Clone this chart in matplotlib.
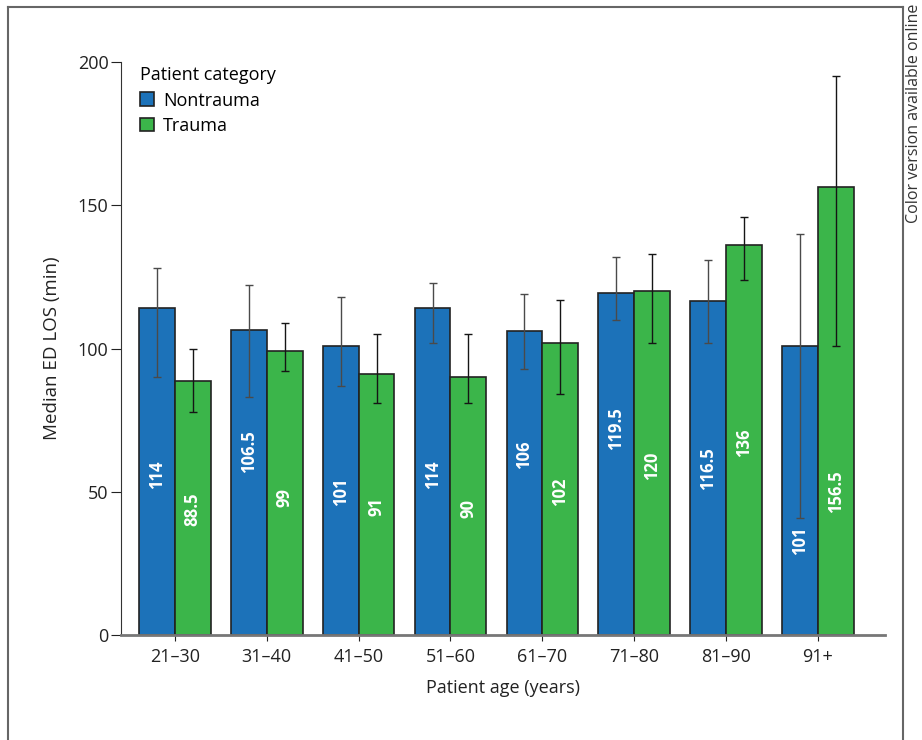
"""Median ED length of stay by patient age, nontrauma vs trauma."""

import matplotlib
matplotlib.use("Agg")
import matplotlib.pyplot as plt
from matplotlib.lines import Line2D
import numpy as np

plt.rcParams["font.family"] = ["Open Sans", "DejaVu Sans"]

age_groups = ["21–30", "31–40", "41–50", "51–60", "61–70", "71–80", "81–90", "91+"]

nontrauma = [114, 106.5, 101, 114, 106, 119.5, 116.5, 101]
nontrauma_lo = [90, 83, 87, 102, 93, 110, 102, 41]
nontrauma_hi = [128, 122, 118, 123, 119, 132, 131, 140]

trauma = [88.5, 99, 91, 90, 102, 120, 136, 156.5]
trauma_lo = [78, 92, 81, 81, 84, 102, 124, 101]
trauma_hi = [100, 109, 105, 105, 117, 133, 146, 195]

# where the rotated value labels sit (data units), hand-placed like the original
nontrauma_label_y = [56, 64, 50, 56, 63, 72, 58, 33]
trauma_label_y = [44, 48, 45, 44, 50, 59, 67, 50]

BLUE = "#1c72b9"
GREEN = "#3bb54a"

fig = plt.figure(figsize=(9.22, 7.40), dpi=100)
ax = fig.add_axes((0.1312, 0.1419, 0.8287, 0.7743))

x = np.arange(len(age_groups))
width = 0.39


def _err(vals, lo, hi):
    v = np.array(vals)
    return np.vstack([v - np.array(lo), np.array(hi) - v])


ax.bar(x - width / 2, nontrauma, width, color=BLUE, edgecolor="#222222",
       linewidth=1.2, label="Nontrauma", zorder=2)
ax.bar(x + width / 2, trauma, width, color=GREEN, edgecolor="#222222",
       linewidth=1.2, label="Trauma", zorder=2)
ax.errorbar(x - width / 2, nontrauma, yerr=_err(nontrauma, nontrauma_lo, nontrauma_hi),
            fmt="none", ecolor="#4a4a4a", elinewidth=1.0, capsize=3, capthick=1.0, zorder=3)
ax.errorbar(x + width / 2, trauma, yerr=_err(trauma, trauma_lo, trauma_hi),
            fmt="none", ecolor="#151515", elinewidth=1.0, capsize=3, capthick=1.0, zorder=3)

for xi, v, ly in zip(x - width / 2, nontrauma, nontrauma_label_y):
    ax.text(xi, ly, f"{v:g}", rotation=90, ha="center", va="center",
            color="white", fontsize=12, fontweight="bold", zorder=4)
for xi, v, ly in zip(x + width / 2, trauma, trauma_label_y):
    ax.text(xi, ly, f"{v:g}", rotation=90, ha="center", va="center",
            color="white", fontsize=12, fontweight="bold", zorder=4)

ax.set_xlim(-0.587, 7.73)
ax.set_ylim(0, 200)
ax.set_yticks([0, 50, 100, 150, 200])
ax.set_xticks(x)
ax.set_xticklabels(age_groups)
ax.tick_params(axis="both", labelsize=13, colors="#222222", width=0.8)
ax.tick_params(axis="y", length=7, pad=2)
ax.tick_params(axis="x", length=4.5, pad=5)
for side in ("top", "right"):
    ax.spines[side].set_visible(False)
ax.spines["left"].set_color("#333333")
ax.spines["left"].set_linewidth(0.8)
ax.spines["bottom"].set_color("#777777")
ax.spines["bottom"].set_linewidth(2.0)

ax.set_ylabel("Median ED LOS (min)", fontsize=13.5, color="#222222", labelpad=12)
ax.set_xlabel("Patient age (years)", fontsize=13, color="#222222", labelpad=9)

leg = ax.legend(title="Patient category", loc="upper left", bbox_to_anchor=(0.015, 1.005),
                frameon=False, fontsize=13, title_fontsize=13, handlelength=0.8,
                handleheight=0.8, handletextpad=0.5, labelspacing=0.4, borderaxespad=0)
leg._legend_box.align = "left"

# outer frame of the journal figure
frame_kw = dict(color="#666666", linewidth=1.5, transform=fig.transFigure)
fig.add_artist(Line2D([8 / 922, 8 / 922], [0, 1 - 7 / 740], **frame_kw))
fig.add_artist(Line2D([8 / 922, 903 / 922], [1 - 7 / 740, 1 - 7 / 740], **frame_kw))
fig.add_artist(Line2D([903 / 922, 903 / 922], [0, 1 - 7 / 740], **frame_kw))

fig.text(914 / 922, 1 - 4 / 740, "Color version available online", rotation=90,
         ha="center", va="top", fontsize=11.5, color="#333333")

fig.savefig("out.png", dpi=100)
plt.close(fig)
